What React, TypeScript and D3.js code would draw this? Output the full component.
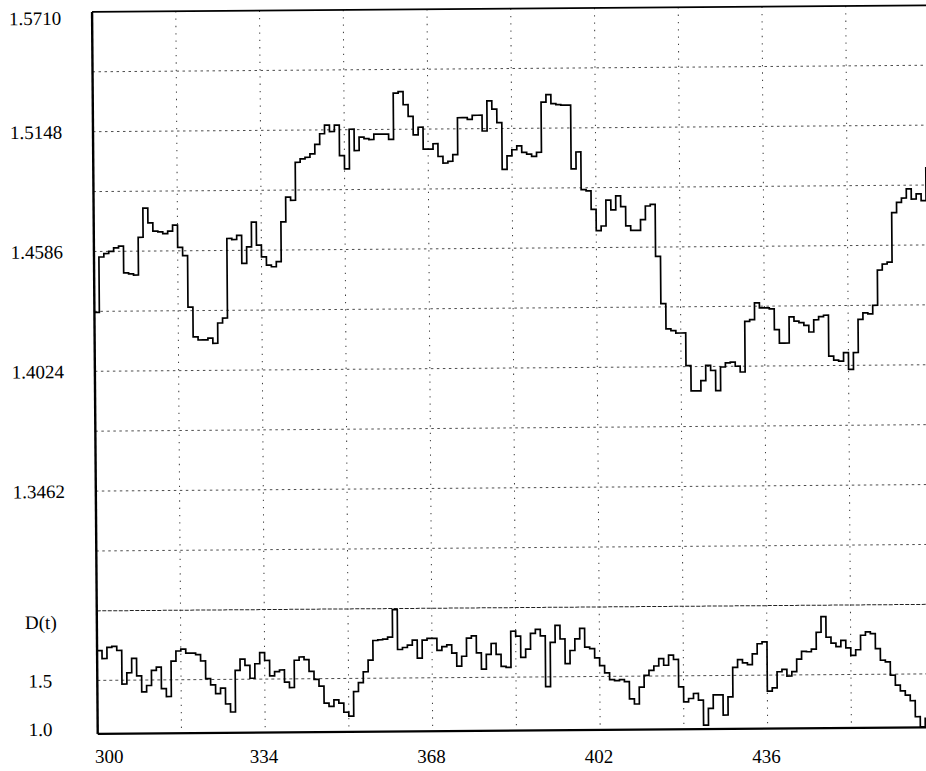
import React from "react";
import * as d3 from "d3";

// ---- data ----
const startT = 300;
const priceValues: number[] = [
  1.430, 1.456, 1.4576, 1.4586, 1.4602, 1.461, 1.4485, 1.448, 1.4474, 1.4651,
  1.4788, 1.4718, 1.4679, 1.4676, 1.4667, 1.4679, 1.4707, 1.4602, 1.4563, 1.4322,
  1.4182, 1.4167, 1.4167, 1.4175, 1.4151, 1.4246, 1.4269, 1.4642, 1.4637, 1.4656,
  1.4525, 1.4602, 1.4718, 1.461, 1.4555, 1.4516, 1.4508, 1.4532, 1.4718, 1.4834,
  1.4819, 1.4997, 1.5013, 1.502, 1.5036, 1.508, 1.513, 1.517, 1.514, 1.517,
  1.5027, 1.4964, 1.515, 1.505, 1.5113, 1.5106, 1.5101, 1.5126, 1.5126, 1.5126,
  1.5101, 1.5318, 1.5325, 1.5263, 1.5208, 1.5121, 1.5157, 1.5054, 1.5054, 1.5079,
  1.5019, 1.4988, 1.4996, 1.5027, 1.52, 1.52, 1.5192, 1.5211, 1.5211, 1.5137,
  1.5278, 1.5239, 1.5176, 1.4956, 1.5019, 1.5048, 1.5066, 1.5035, 1.5027, 1.5016,
  1.5035, 1.527, 1.5305, 1.5263, 1.5258, 1.5255, 1.5255, 1.4956, 1.5035, 1.4858,
  1.4852, 1.4765, 1.4665, 1.4687, 1.4808, 1.4762, 1.4828, 1.4777, 1.4687, 1.4665,
  1.4665, 1.4715, 1.4779, 1.4787, 1.4542, 1.4321, 1.4202, 1.4194, 1.4182, 1.4182,
  1.4029, 1.391, 1.391, 1.3958, 1.4029, 1.4005, 1.391, 1.4021, 1.404, 1.4044,
  1.4024, 1.3997, 1.4234, 1.4242, 1.4321, 1.4297, 1.4297, 1.4292, 1.4194, 1.4131,
  1.4131, 1.4254, 1.4234, 1.4226, 1.4213, 1.4182, 1.4239, 1.4254, 1.426, 1.4068,
  1.4049, 1.4044, 1.4084, 1.4005, 1.4084, 1.4239, 1.427, 1.4265, 1.4305, 1.447,
  1.4498, 1.4507, 1.4739, 1.4787, 1.4807, 1.485, 1.4802, 1.4826, 1.4794, 1.4952,
];
const dValues: number[] = [
  1.778, 1.704, 1.808, 1.817, 1.778, 1.464, 1.569, 1.704, 1.539, 1.389,
  1.449, 1.59, 1.62, 1.419, 1.344, 1.674, 1.769, 1.787, 1.748, 1.748,
  1.733, 1.674, 1.509, 1.449, 1.368, 1.419, 1.27, 1.195, 1.584, 1.689,
  1.629, 1.509, 1.644, 1.748, 1.674, 1.53, 1.569, 1.584, 1.47, 1.419,
  1.674, 1.704, 1.68, 1.569, 1.494, 1.43, 1.27, 1.24, 1.3, 1.27,
  1.184, 1.147, 1.377, 1.46, 1.561, 1.669, 1.853, 1.859, 1.865, 1.883,
  2.14, 1.767, 1.785, 1.807, 1.853, 1.684, 1.853, 1.868, 1.868, 1.755,
  1.791, 1.807, 1.73, 1.607, 1.699, 1.868, 1.889, 1.73, 1.577, 1.715,
  1.816, 1.715, 1.601, 1.592, 1.929, 1.883, 1.684, 1.761, 1.908, 1.945,
  1.883, 1.408, 1.822, 1.981, 1.853, 1.623, 1.745, 1.853, 1.951, 1.776,
  1.761, 1.675, 1.601, 1.534, 1.47, 1.46, 1.469, 1.45, 1.2875, 1.24,
  1.397, 1.506, 1.553, 1.594, 1.662, 1.6, 1.694, 1.653, 1.397, 1.256,
  1.2875, 1.334, 1.272, 1.0375, 1.194, 1.319, 1.319, 1.13, 1.3, 1.575,
  1.647, 1.616, 1.6, 1.7, 1.794, 1.812, 1.35, 1.381, 1.531, 1.553,
  1.49, 1.531, 1.647, 1.719, 1.716, 1.74, 1.897, 2.044, 1.85, 1.794,
  1.762, 1.819, 1.75, 1.678, 1.731, 1.866, 1.897, 1.881, 1.74, 1.631,
  1.616, 1.49, 1.397, 1.344, 1.303, 1.25, 1.1, 1.006, 1.084, 1.16,
];
const xTickLabels = [300, 334, 368, 402, 436];
const xGridValues = [317, 334, 351, 368, 385, 402, 419, 436, 453];
const yTickLabels = ["1.5710", "1.5148", "1.4586", "1.4024", "1.3462"];
const yGridValues = [1.5429, 1.5148, 1.4867, 1.4586, 1.4305, 1.4024, 1.3743, 1.3462, 1.3181];
const dTickLabels = ["1.5", "1.0"];
const dGridValues = [1.5];

// ---- layout ----
const W = 926;
const H = 771;
const left = 95;
const top = 9;
const panelBottom = 608;
const bottom = 731;
const unitPx = 4.926;

export default function App() {
  const x = d3.scaleLinear().domain([300, 470]).range([left, left + 170 * unitPx]);
  const y = d3.scaleLinear().domain([1.29, 1.571]).range([panelBottom, top]);
  const yd = d3.scaleLinear().domain([1.0, 2.15]).range([bottom, panelBottom]);
  const right = x(470);

  const priceLine = d3
    .line<number>()
    .x((_, i) => x(startT + i))
    .y((v) => y(v))
    .curve(d3.curveStepAfter);
  const dLine = d3
    .line<number>()
    .x((_, i) => x(startT + i))
    .y((v) => yd(v))
    .curve(d3.curveStepAfter);

  const font = "'Liberation Serif', 'DejaVu Serif', serif";
  const gridColor = "#3a3a3a";

  return (
    <svg
      width={W}
      height={H}
      style={{ position: "absolute", left: 0, top: 0, background: "#fff" }}
      fontFamily={font}
    >
      <rect x={0} y={0} width={W} height={H} fill="#fff" />
      <g transform={`rotate(-0.45, 463, 385)`}>
        {yGridValues.map((v) => (
          <line
            key={"hg" + v}
            x1={left}
            x2={right}
            y1={y(v)}
            y2={y(v)}
            stroke={gridColor}
            strokeWidth={0.9}
            strokeDasharray="2.5,3.5"
          />
        ))}
        {dGridValues.map((v) => (
          <line
            key={"dg" + v}
            x1={left}
            x2={right}
            y1={yd(v)}
            y2={yd(v)}
            stroke={gridColor}
            strokeWidth={0.9}
            strokeDasharray="3,3"
          />
        ))}
        <line
          x1={left}
          x2={right}
          y1={panelBottom}
          y2={panelBottom}
          stroke="#222"
          strokeWidth={1}
          strokeDasharray="4,1.5"
        />
        {xGridValues.map((t) => (
          <line
            key={"vg" + t}
            x1={x(t)}
            x2={x(t)}
            y1={top}
            y2={bottom}
            stroke={gridColor}
            strokeWidth={1}
            strokeDasharray="1.3,6"
          />
        ))}
        <line x1={left} x2={right} y1={top} y2={top} stroke="#000" strokeWidth={1.8} />
        <line x1={left} x2={left} y1={top} y2={bottom} stroke="#000" strokeWidth={2.4} />
        <line x1={left} x2={right} y1={bottom} y2={bottom} stroke="#000" strokeWidth={2.4} />

        <path d={priceLine(priceValues) || ""} fill="none" stroke="#000" strokeWidth={1.7} />
        <path d={dLine(dValues) || ""} fill="none" stroke="#000" strokeWidth={1.7} />

        {yTickLabels.map((s) => (
          <text
            key={"yl" + s}
            x={38}
            y={Math.max(y(+s), 15)}
            dy="0.35em"
            textAnchor="middle"
            fontSize={19}
            fill="#000"
          >
            {s}
          </text>
        ))}
        <text x={39} y={619} dy="0.35em" textAnchor="middle" fontSize={19} fill="#000">
          D(t)
        </text>
        {dTickLabels.map((s) => (
          <text
            key={"dl" + s}
            x={38}
            y={+s === 1.0 ? yd(+s) - 5 : yd(+s)}
            dy="0.35em"
            textAnchor="middle"
            fontSize={19}
            fill="#000"
          >
            {s}
          </text>
        ))}
      </g>
      {xTickLabels.map((t, i) => (
        <text
          key={"xl" + t}
          x={i === 0 ? x(t) : x(t) + 1.5}
          y={763}
          textAnchor={i === 0 ? "start" : "middle"}
          fontSize={19}
          fill="#000"
        >
          {t}
        </text>
      ))}
    </svg>
  );
}
